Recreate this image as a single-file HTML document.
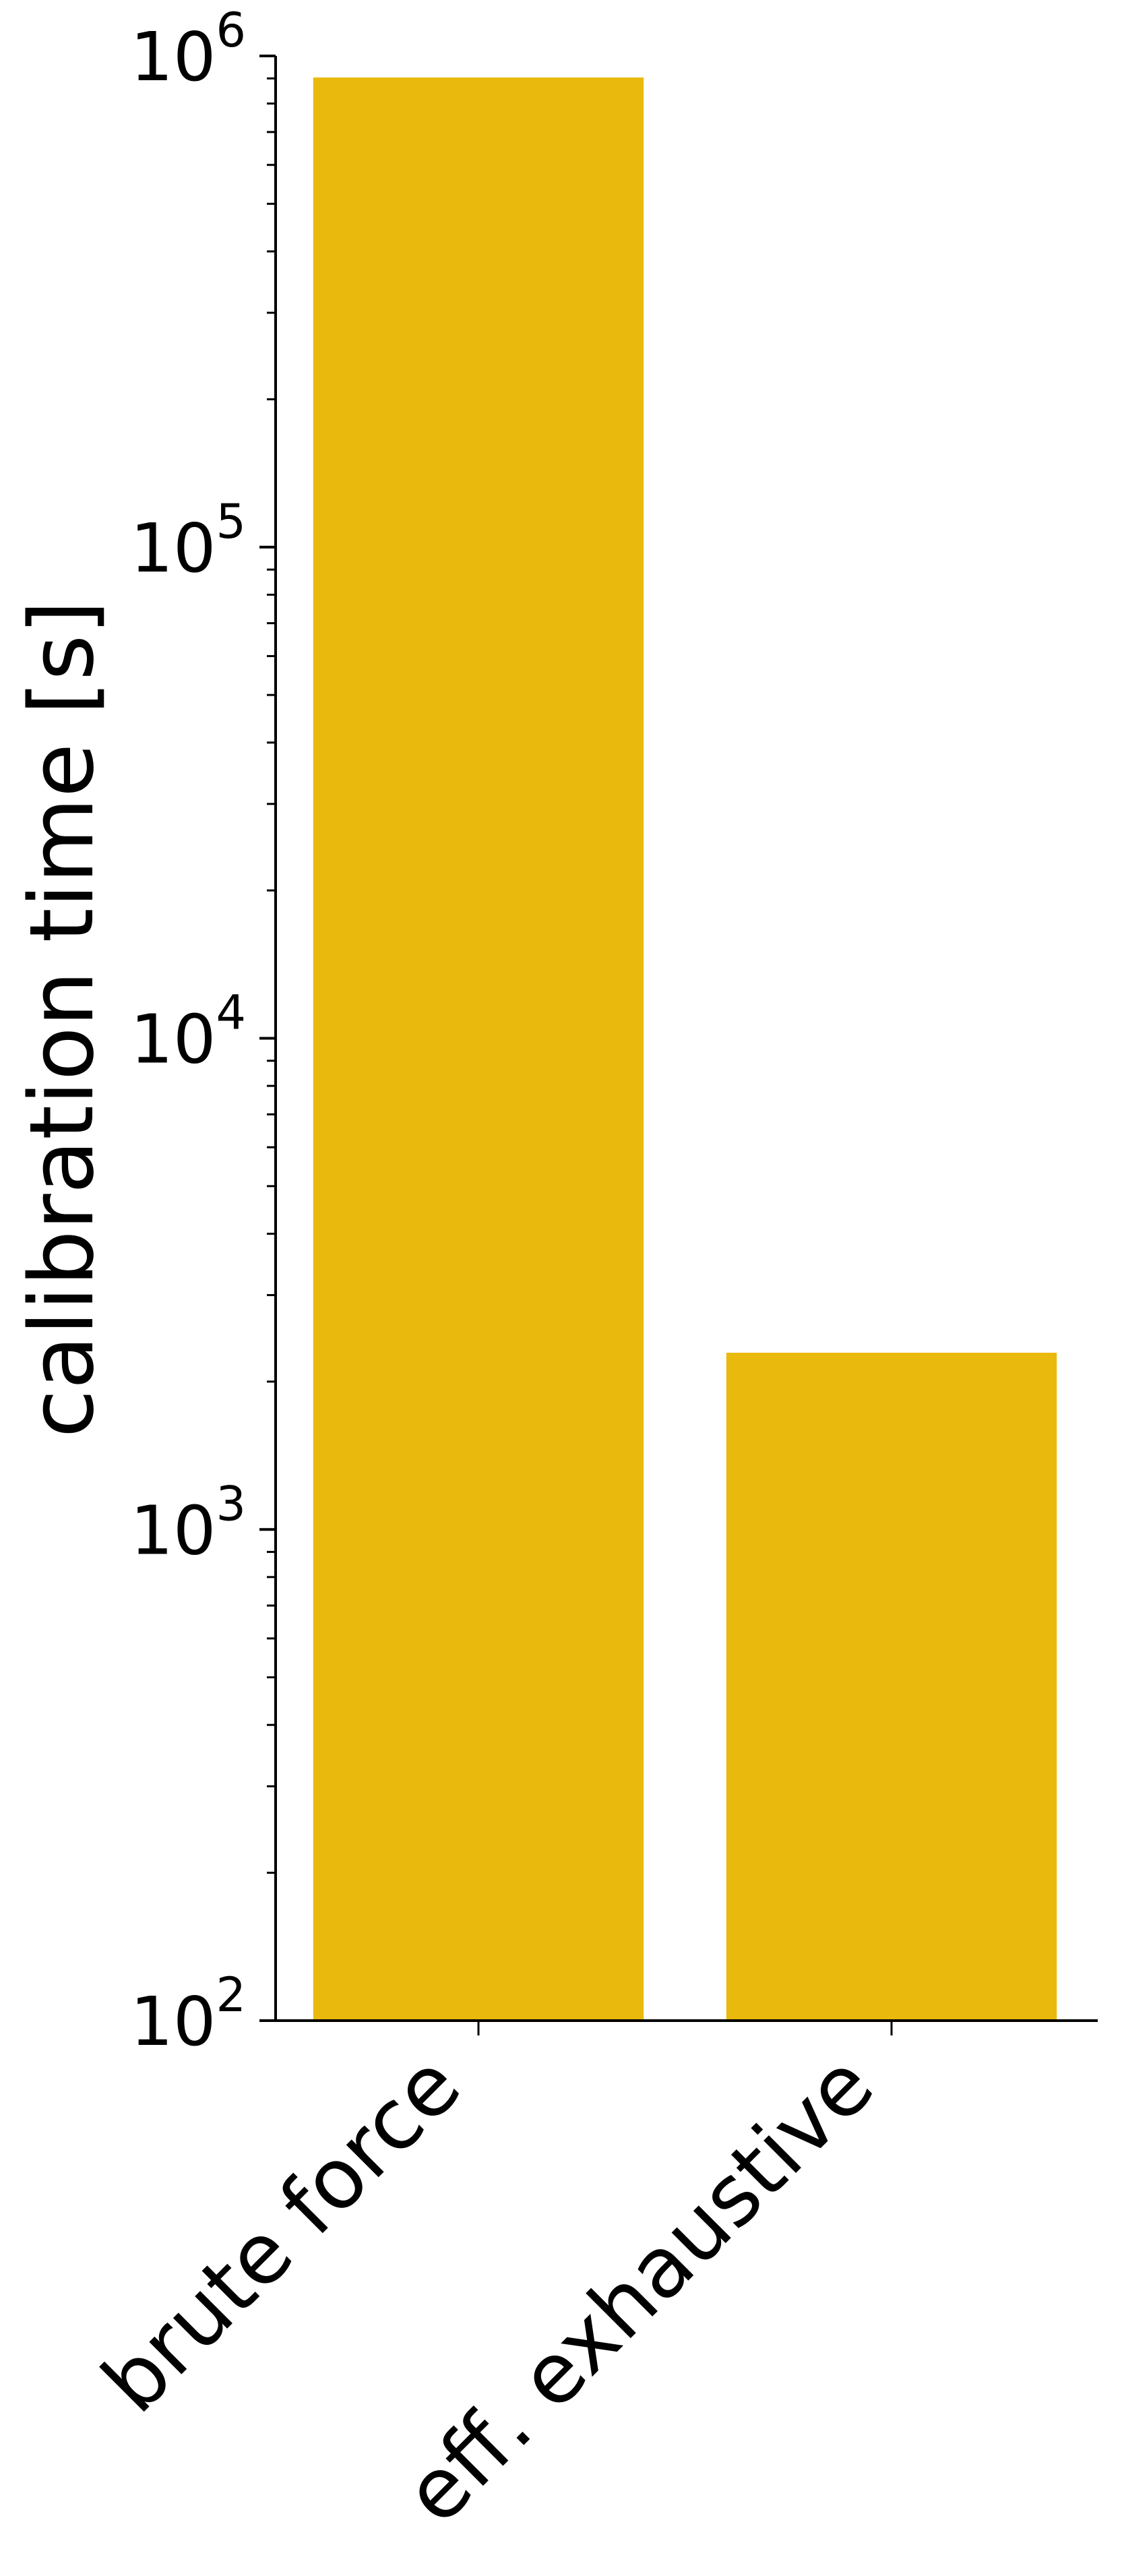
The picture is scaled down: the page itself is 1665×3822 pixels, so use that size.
<!DOCTYPE html>
<html><head><meta charset="utf-8"><style>
html,body{margin:0;padding:0;background:#fff;}
svg{display:block;font-family:"DejaVu Sans","Liberation Sans",sans-serif;}
</style></head><body>
<svg id="chart" width="1665" height="3822" viewBox="0 0 1665 3822" xmlns="http://www.w3.org/2000/svg">
<g id="bars"></g>
<g id="yaxis"></g>
<g id="xaxis"></g>
<text transform="translate(137,1512) rotate(-90)" text-anchor="middle" font-size="131">calibration time [s]</text>
</svg>
<script>
const categories = ["brute force", "eff. exhaustive"];
const values = [904000, 2290];
const tickExps = [2, 3, 4, 5, 6];
const tickLabels = ["2", "3", "4", "5", "6"];

const NS = "http://www.w3.org/2000/svg";
const yTop = 83, yBot = 2998, logMin = 2, logMax = 6;
function yScale(v){ return yBot - (Math.log10(v) - logMin) / (logMax - logMin) * (yBot - yTop); }
const x0 = 710, step = 613, barW = 0.8 * step;
function xScale(i){ return x0 + i * step; }
function mk(tag, attrs, parent){ const e = document.createElementNS(NS, tag); for (const k in attrs) e.setAttribute(k, attrs[k]); parent.appendChild(e); return e; }

const gb = document.getElementById('bars');
values.forEach((v, i) => {
  const y = yScale(v);
  const r = mk('rect', {x: xScale(i) - barW/2, y: y, width: barW, height: yBot - y, fill: '#EAB90E'}, gb);
  
  
});

const gy = document.getElementById('yaxis');
const sp = mk('line', {x1: 409, y1: yTop, x2: 409, y2: yBot + 2, stroke: '#000', 'stroke-width': 4}, gy);


tickExps.forEach((e, i) => {
  const y = yScale(Math.pow(10, e));
  const t = mk('line', {x1: 385, y1: y, x2: 409, y2: y, stroke: '#000', 'stroke-width': 4}, gy);
  
  
  const tx = mk('text', {x: 365, y: y + 36, 'text-anchor': 'end', 'font-size': 100}, gy);
  
  
  const a = mk('tspan', {}, tx); a.textContent = '10';
  const b = mk('tspan', {dy: -50, 'font-size': 70}, tx); b.textContent = tickLabels[i];
  if (e < logMax) {
    for (let m = 2; m <= 9; m++) {
      const ym = yScale(m * Math.pow(10, e));
      const mt = mk('line', {x1: 396, y1: ym, x2: 409, y2: ym, stroke: '#000', 'stroke-width': 3}, gy);
      
      
    }
  }
});

const gx = document.getElementById('xaxis');
const bs = mk('line', {x1: 407, y1: yBot, x2: 1629, y2: yBot, stroke: '#000', 'stroke-width': 4}, gx);


categories.forEach((c, i) => {
  const x = xScale(i);
  const t = mk('line', {x1: x, y1: yBot, x2: x, y2: yBot + 22, stroke: '#000', 'stroke-width': 3}, gx);
  
  
  const tx = mk('text', {transform: 'translate(' + (x - 20) + ',' + (yBot + 104) + ') rotate(-45)', 'text-anchor': 'end', 'font-size': 124}, gx);
  
  
  tx.textContent = c;
});
</script>
</body></html>
